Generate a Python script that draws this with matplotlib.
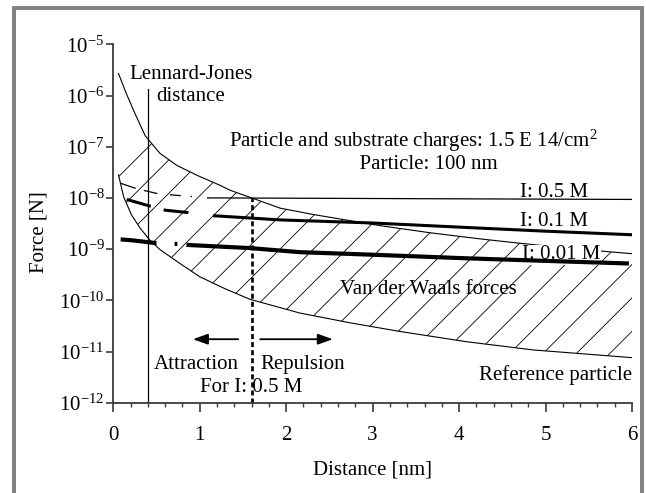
import numpy as np
import matplotlib
matplotlib.use("Agg")
import matplotlib.pyplot as plt
from matplotlib.patches import Polygon
from matplotlib.lines import Line2D
from matplotlib.ticker import FixedLocator, MultipleLocator, NullLocator

plt.rcParams['font.family'] = ['Liberation Serif', 'DejaVu Serif']
plt.rcParams['mathtext.fontset'] = 'custom'
plt.rcParams['mathtext.rm'] = 'Liberation Serif'
plt.rcParams['mathtext.it'] = 'Liberation Serif:italic'
plt.rcParams['lines.scale_dashes'] = False

# forces are given as log10(F [N])
vdw_d = [0.06, 0.15, 0.25, 0.37, 0.48, 0.54, 0.73, 0.97, 1.23, 1.35, 1.6,
         1.93, 2.3, 2.58, 3.08, 3.66, 4.24, 4.67, 5.3, 6.0]
vdw_logf = [-5.57, -5.96, -6.35, -6.79, -7.01, -7.13, -7.36, -7.56, -7.75, -7.85, -8.0,
            -8.20, -8.32, -8.40, -8.54, -8.68, -8.80, -8.88, -8.99, -9.09]

ref_d = [0.06, 0.12, 0.21, 0.31, 0.42, 0.54, 0.77, 1.0, 1.3, 1.58, 2.16,
         2.74, 3.32, 4.09, 4.86, 6.0]
ref_logf = [-7.55, -7.98, -8.33, -8.59, -8.82, -9.01, -9.28, -9.54, -9.78, -9.98, -10.25,
            -10.44, -10.61, -10.81, -10.97, -11.12]

# ionic strength 0.5 M
i05_dash_d = [0.077, 0.27, 0.52, 0.81, 1.1]
i05_dash_logf = [-7.71, -7.82, -7.92, -7.96, -8.0]
i05_d = [1.1, 3.5, 6.0]
i05_logf = [-8.0, -8.015, -8.03]

# ionic strength 0.1 M
i01_dash_d = [0.155, 0.444, 0.6, 0.887, 1.18]
i01_dash_logf = [-8.03, -8.17, -8.24, -8.29, -8.35]
i01_d = [1.18, 1.93, 3.0, 4.24, 5.0, 6.0]
i01_logf = [-8.35, -8.43, -8.49, -8.59, -8.65, -8.72]

# ionic strength 0.01 M
i001_dash_d = [0.085, 0.23, 0.50, 0.75, 0.87]
i001_dash_logf = [-8.81, -8.83, -8.885, -8.90, -8.92]
i001_d = [0.87, 1.58, 2.16, 3.0, 4.09, 5.0, 5.94]
i001_logf = [-8.92, -8.98, -9.06, -9.11, -9.18, -9.23, -9.28]

lj_distance = 0.4
lj_top = -5.88
cross_distance = 1.6
cross_logf = -8.0

x_ticks = [0, 1, 2, 3, 4, 5, 6]
y_exps = [-12, -11, -10, -9, -8, -7, -6, -5]


def F(a):
    return 10.0 ** np.asarray(a, dtype=float)


fig = plt.figure(figsize=(6.46, 4.93), dpi=100)
ax = fig.add_axes([113.3 / 646, 1 - 402.7 / 493, 518.7 / 646, 358.4 / 493])
ax.set_yscale('log')
ax.set_xlim(0, 6)
ax.set_ylim(1e-12, 1e-5)

# hatched van der Waals region
vdw_d_arr = np.array(vdw_d)
mask = vdw_d_arr >= 0.37
verts = list(zip(ref_d, F(ref_logf))) + \
    list(zip(vdw_d_arr[mask][::-1], F(np.array(vdw_logf)[mask][::-1])))
poly = Polygon(verts, closed=True, fill=False, edgecolor='none')
ax.add_patch(poly)
for k in range(24):
    c = -220.7 + 33.4 * k
    ln, = ax.plot([c / 518.7, (c + 358.4) / 518.7], [0, 1], transform=ax.transAxes,
                  color='k', lw=0.6, zorder=1.5)
    ln.set_clip_path(poly)

ax.plot(vdw_d, F(vdw_logf), color='k', lw=0.8, zorder=2)
ax.plot(ref_d, F(ref_logf), color='k', lw=0.8, zorder=2)

ax.plot([lj_distance, lj_distance], [1e-12, F(lj_top)], color='k', lw=0.9, zorder=2)
ax.plot([cross_distance, cross_distance], [1e-12, F(cross_logf)], color='k', lw=1.9,
        ls=(0, (3.6, 2.2)), zorder=2, clip_on=False)

ax.plot(i05_dash_d, F(i05_dash_logf), color='k', lw=0.9, ls=(0, (12, 6, 10, 9, 8, 7, 1, 11)), zorder=4)
ax.plot(i05_d, F(i05_logf), color='k', lw=0.9, zorder=4)
ax.plot(i01_dash_d, F(i01_dash_logf), color='k', lw=2.2, ls=(0, (18, 9.6, 18, 18)), zorder=4)
ax.plot(i01_d, F(i01_logf), color='k', lw=2.2, zorder=4)
ax.plot(i001_dash_d, F(i001_dash_logf), color='k', lw=3.0, ls=(0, (26, 13, 2, 7)), zorder=4)
ax.plot(i001_d, F(i001_logf), color='k', lw=3.0, zorder=4)

# arrows
arrow_y = F(-10.76)
astyle = dict(arrowstyle='-|>,head_length=0.45,head_width=0.16', color='k', lw=1.3,
              mutation_scale=20, shrinkA=0, shrinkB=0)
ax.annotate('', xy=(0.92, arrow_y), xytext=(1.445, arrow_y), arrowprops=astyle)
ax.annotate('', xy=(2.54, arrow_y), xytext=(1.70, arrow_y), arrowprops=astyle)

fs = 15
ax.text(0.90, F(-5.80), 'Lennard-Jones\ndistance', ha='center', va='center', fontsize=fs, linespacing=1.25)
ax.text(3.47, F(-7.08), 'Particle and substrate charges: 1.5 E 14/cm$^{2}$\n      Particle: 100 nm',
        ha='center', va='center', multialignment='center', fontsize=fs, linespacing=1.05)
ax.text(5.49, F(-7.90), 'I: 0.5 M', ha='right', va='center', fontsize=fs)
ax.text(5.49, F(-8.47), 'I: 0.1 M', ha='right', va='center', fontsize=fs)
ax.text(5.63, F(-9.11), 'I: 0.01 M', ha='right', va='center', fontsize=fs, zorder=3,
        bbox=dict(facecolor='white', edgecolor='none', pad=0.5))
ax.text(3.65, F(-9.78), 'Van der Waals forces', ha='center', va='center', fontsize=fs, zorder=5)
ax.text(6.0, F(-11.46), 'Reference particle', ha='right', va='center', fontsize=fs)
ax.text(0.957, F(-11.25), 'Attraction', ha='center', va='center', fontsize=fs)
ax.text(2.19, F(-11.25), 'Repulsion', ha='center', va='center', fontsize=fs)
ax.text(1.60, F(-11.70), 'For I: 0.5 M', ha='center', va='center', fontsize=fs)

# axes styling
for side in ['top', 'right']:
    ax.spines[side].set_visible(False)
for side in ['left', 'bottom']:
    ax.spines[side].set_color('#3a3a3a')
    ax.spines[side].set_linewidth(1.3)

ax.xaxis.set_major_locator(FixedLocator(x_ticks))
ax.xaxis.set_minor_locator(MultipleLocator(0.2))
ax.set_xticklabels([str(t) for t in x_ticks])
ax.yaxis.set_major_locator(FixedLocator([10.0 ** e for e in y_exps]))
ax.yaxis.set_minor_locator(NullLocator())
ax.set_yticklabels(['$10^{%d}$' % e for e in y_exps])
ax.tick_params(axis='x', which='major', length=6.5, width=1.2, color='#3a3a3a', pad=10.5, labelsize=fs)
ax.tick_params(axis='x', which='minor', length=2.6, width=1.0, color='#3a3a3a')
ax.tick_params(axis='y', which='major', length=4.8, width=1.2, color='#3a3a3a', pad=1.5, labelsize=fs)

ax.set_xlabel('Distance [nm]', fontsize=fs)
ax.xaxis.set_label_coords(0.5, -0.161)
ax.set_ylabel('Force [N]', fontsize=fs)
ax.yaxis.set_label_coords(-0.124, 0.476)

# gray frame around the figure
l, t, r = 13.7 / 646, 1 - 8 / 493, 642.3 / 646
fig.add_artist(Line2D([l, l, r, r], [-0.02, t, t, -0.02], transform=fig.transFigure,
                      color='#808080', lw=2.8, solid_joinstyle='miter'))

fig.savefig('out.png', dpi=100)
